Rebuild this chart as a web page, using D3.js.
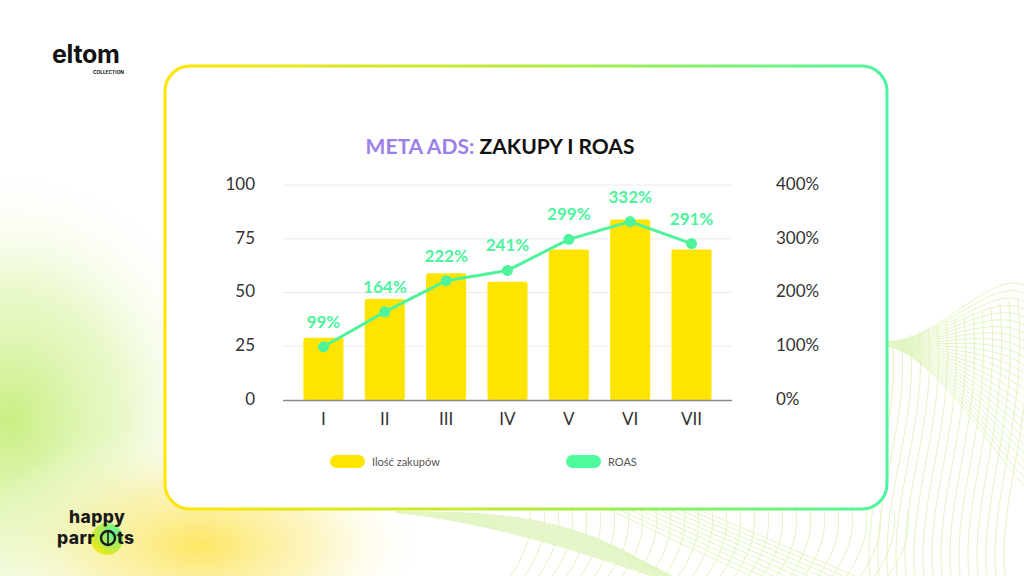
<!DOCTYPE html>
<html><head><meta charset="utf-8">
<script src="https://cdn.jsdelivr.net/npm/d3@7/dist/d3.min.js"></script>
<style>html,body{margin:0;padding:0;background:#fff;}svg{display:block;}</style>
</head><body>
<svg id="c" width="1024" height="576"></svg>
<script>
const categories = ["I","II","III","IV","V","VI","VII"];
const purchases = [29, 47, 59, 55, 70, 84, 70];
const roas = [99, 164, 222, 241, 299, 332, 291];
const leftTicks = [0, 25, 50, 75, 100];
const rightTicks = [0, 100, 200, 300, 400];
const legendLabels = ["Ilość zakupów", "ROAS"];

const svg = d3.select("#c");
const defs = svg.append("defs");

// background blobs
const g1 = defs.append("radialGradient").attr("id","bgGreen").attr("cx","0.5").attr("cy","0.5").attr("r","0.5");
g1.append("stop").attr("offset","0").attr("stop-color","#c6ee7c").attr("stop-opacity",0.95);
g1.append("stop").attr("offset","0.5").attr("stop-color","#dcf4a8").attr("stop-opacity",0.6);
g1.append("stop").attr("offset","1").attr("stop-color","#ffffff").attr("stop-opacity",0);
const g2 = defs.append("radialGradient").attr("id","bgYellow").attr("cx","0.5").attr("cy","0.5").attr("r","0.5");
g2.append("stop").attr("offset","0").attr("stop-color","#fde55a").attr("stop-opacity",0.95);
g2.append("stop").attr("offset","0.5").attr("stop-color","#fbee98").attr("stop-opacity",0.6);
g2.append("stop").attr("offset","1").attr("stop-color","#ffffff").attr("stop-opacity",0);
const border = defs.append("linearGradient").attr("id","border").attr("x1","0").attr("x2","1").attr("y1","0").attr("y2","0");
border.append("stop").attr("offset","0").attr("stop-color","#ffe600");
border.append("stop").attr("offset","0.5").attr("stop-color","#b6ec3a");
border.append("stop").attr("offset","1").attr("stop-color","#4df5a0");
const logoG = defs.append("radialGradient").attr("id","logoG").attr("cx","0.7").attr("cy","0.3").attr("r","0.8");
logoG.append("stop").attr("offset","0").attr("stop-color","#4df59a");
logoG.append("stop").attr("offset","1").attr("stop-color","#f5e600");

svg.append("rect").attr("width",1024).attr("height",576).attr("fill","#fff");
svg.append("ellipse").attr("cx",10).attr("cy",420).attr("rx",230).attr("ry",260).attr("fill","url(#bgGreen)");
svg.append("ellipse").attr("cx",200).attr("cy",545).attr("rx",230).attr("ry",120).attr("fill","url(#bgYellow)");

// decorative mesh
const mesh = svg.append("g").attr("fill","none").attr("stroke","#e3f5c2").attr("stroke-width",1);
for (let i = 0; i < 26; i++) {
  const t = i / 25;
  const yEnd = 285 + t * 200;
  mesh.append("path").attr("d", `M888,${342 + t*4} C940,${340 + t*20} 990,${330 - 60*(1-t) + t*120} 1024,${yEnd}`);
}
for (let i = 0; i < 16; i++) {
  const x0 = 892 + i * 9;
  mesh.append("path").attr("d", `M${x0},${340 - i*3} C${x0+10},${420} ${x0-30},${500} ${x0-22},576`);
}
for (let i = 0; i < 22; i++) {
  const t = i / 21;
  mesh.append("path").attr("d", `M395,512 C480,${512 + t*10} 560,${512 + t*30} ${640 + t*80},${560 + t*40}`);
}
for (let i = 0; i < 28; i++) {
  const x0 = 530 + i * 14;
  mesh.append("path").attr("d", `M${x0},510 C${x0+4},540 ${x0-10},565 ${x0-30},590`);
}
for (let i = 0; i < 10; i++) {
  mesh.append("path").attr("d", `M${610 + i*10},510 L${780 + i*12},590`);
}

// card
svg.append("rect").attr("x",165).attr("y",66).attr("width",722).attr("height",443).attr("rx",25)
  .attr("fill","#fff").attr("stroke","url(#border)").attr("stroke-width",3);

// logos
svg.append("text").attr("x",52).attr("y",63).attr("font-family","Inter, sans-serif").attr("font-weight",700)
  .attr("font-size",25).attr("letter-spacing",-0.3).attr("fill","#111").text("eltom");
svg.append("text").attr("x",124).attr("y",74).attr("text-anchor","end").attr("font-family","Inter, sans-serif").attr("font-weight",700)
  .attr("font-size",4.8).attr("fill","#111").text("COLLECTION");
svg.append("circle").attr("cx",107).attr("cy",539).attr("r",16).attr("fill","url(#logoG)").attr("opacity",0.9);
svg.append("text").attr("x",69).attr("y",523).attr("font-family","Inter, sans-serif").attr("font-weight",800)
  .attr("font-size",17.5).attr("letter-spacing",0.4).attr("fill","#1a1a1a").text("happy");
svg.append("text").attr("x",57).attr("y",544).attr("font-family","Inter, sans-serif").attr("font-weight",800)
  .attr("font-size",17.5).attr("letter-spacing",0.4).attr("fill","#1a1a1a").text("parr");
svg.append("circle").attr("cx",108).attr("cy",538).attr("r",7).attr("fill","none").attr("stroke","#1a1a1a").attr("stroke-width",2.4);
svg.append("line").attr("x1",108).attr("x2",108).attr("y1",531).attr("y2",545).attr("stroke","#1a1a1a").attr("stroke-width",1.6);
svg.append("text").attr("x",117).attr("y",544).attr("font-family","Inter, sans-serif").attr("font-weight",800)
  .attr("font-size",17.5).attr("letter-spacing",0.4).attr("fill","#1a1a1a").text("ts");

// title
const title = svg.append("text").attr("x",500).attr("y",154).attr("text-anchor","middle")
  .attr("font-family","Lato, sans-serif").attr("font-weight",700).attr("font-size",21);
title.append("tspan").attr("fill","#9b80ea").text("META ADS: ");
title.append("tspan").attr("fill","#111").text("ZAKUPY I ROAS");

// scales
const x = d3.scaleBand().domain(categories).range([293, 722]).paddingInner(0.347).paddingOuter(0.17);
const yL = d3.scaleLinear().domain([0, 100]).range([400, 185]);
const yR = d3.scaleLinear().domain([0, 400]).range([400, 185]);
const gridX0 = 283, gridX1 = 732;

// gridlines
svg.append("g").selectAll("line").data(leftTicks.filter(d => d > 0)).join("line")
  .attr("x1",gridX0).attr("x2",gridX1).attr("y1",d => yL(d)).attr("y2",d => yL(d))
  .attr("stroke","#ececec").attr("stroke-width",1);

// left axis
const axL = svg.append("g").attr("transform",`translate(${gridX0},0)`)
  .call(d3.axisLeft(yL).tickValues(leftTicks).tickSize(0).tickPadding(28));
axL.select(".domain").remove();
axL.selectAll("text").attr("font-family","Lato, sans-serif").attr("font-size",17).attr("fill","#333").attr("dy","0.25em");

// right axis
const axR = svg.append("g").attr("transform",`translate(${gridX1},0)`)
  .call(d3.axisRight(yR).tickValues(rightTicks).tickSize(0).tickPadding(44).tickFormat(d => d + "%"));
axR.select(".domain").remove();
axR.selectAll("text").attr("font-family","Lato, sans-serif").attr("font-size",17).attr("fill","#333")
  .attr("dy","0.25em");

// bars
svg.append("g").selectAll("rect").data(categories).join("rect")
  .attr("x", d => x(d)).attr("width", x.bandwidth())
  .attr("y", (d,i) => yL(purchases[i])).attr("height", (d,i) => yL(0) - yL(purchases[i]))
  .attr("rx",2).attr("fill","#fde500");

// baseline
svg.append("line").attr("x1",gridX0).attr("x2",gridX1).attr("y1",yL(0)+0.5).attr("y2",yL(0)+0.5)
  .attr("stroke","#8a8a8a").attr("stroke-width",1.5);

// x axis
const axB = svg.append("g").attr("transform",`translate(0,${yL(0)})`)
  .call(d3.axisBottom(x).tickSize(0).tickPadding(13));
axB.select(".domain").remove();
axB.selectAll("text").attr("font-family","Lato, sans-serif").attr("font-size",17).attr("fill","#333");

// ROAS line
const green = "#4ff39c";
const pts = categories.map((c,i) => [x(c) + x.bandwidth()/2, yR(roas[i])]);
svg.append("path").datum(pts).attr("d", d3.line()).attr("fill","none").attr("stroke",green).attr("stroke-width",3);
svg.append("g").selectAll("circle").data(pts).join("circle")
  .attr("cx", d => d[0]).attr("cy", d => d[1]).attr("r",5.5).attr("fill",green);
svg.append("g").selectAll("text").data(pts).join("text")
  .attr("x", d => d[0]).attr("y", d => d[1] - 19).attr("text-anchor","middle")
  .attr("font-family","Lato, sans-serif").attr("font-weight",700).attr("font-size",17).attr("fill",green)
  .text((d,i) => roas[i] + "%");

// legend
const legend = svg.append("g");
const legendItems = [{label: legendLabels[0], color: "#fde500", x: 330}, {label: legendLabels[1], color: "#4dfb9c", x: 566}];
legend.selectAll("rect").data(legendItems).join("rect")
  .attr("x", d => d.x).attr("y",455).attr("width",35).attr("height",13).attr("rx",6.5).attr("fill", d => d.color);
legend.selectAll("text").data(legendItems).join("text")
  .attr("x", d => d.x + 42).attr("y",465.5).attr("font-family","Lato, sans-serif").attr("font-size",11).attr("fill","#555")
  .text(d => d.label);
</script>
</body></html>
